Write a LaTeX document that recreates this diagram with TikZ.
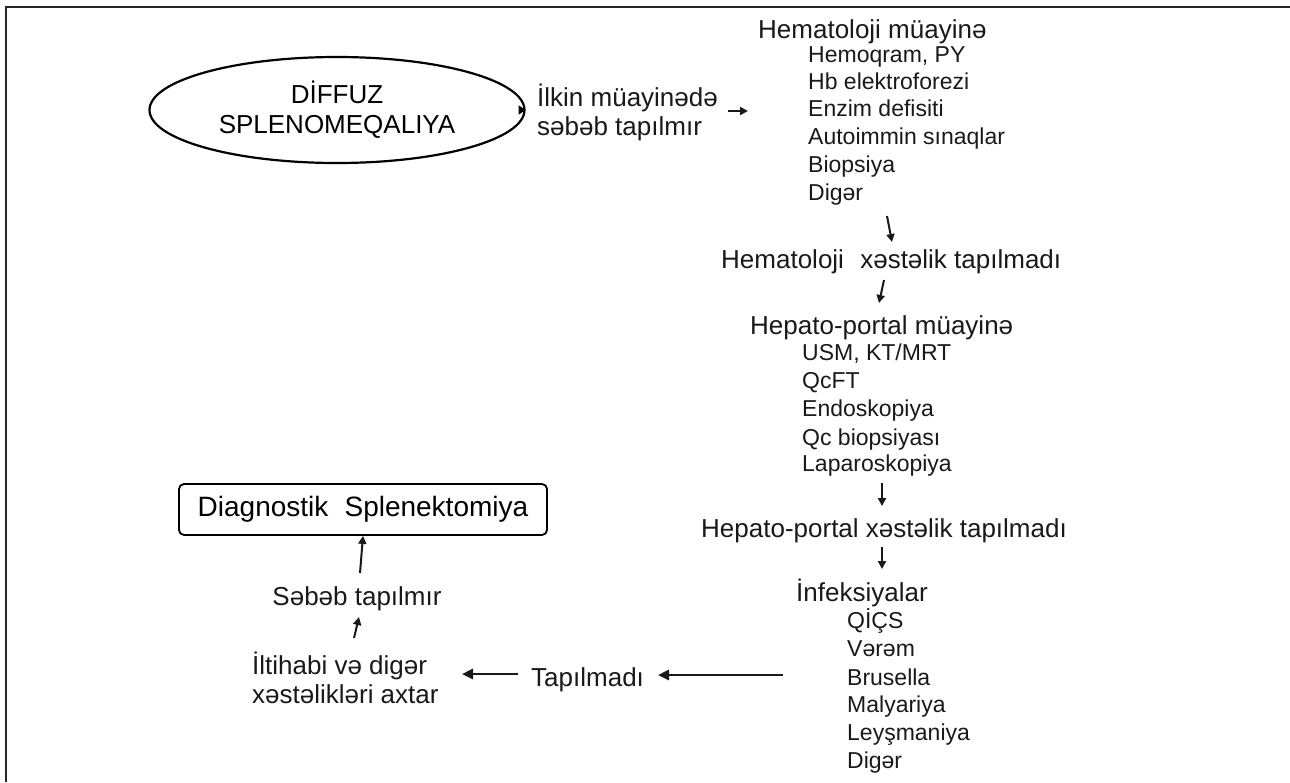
\documentclass[tikz,border=0pt]{standalone}
\usepackage{fontspec}
\setmainfont{Liberation Sans}
\usetikzlibrary{arrows.meta,shapes.geometric}
\tikzset{
  lbl/.style={inner sep=0pt, font=\fontsize{26}{29}\selectfont, text=black!90},
  itm/.style={inner sep=0pt, anchor=base west, font=\fontsize{23}{27}\selectfont, text=black!90},
  arr/.style={-{Triangle[length=8pt,width=8pt]}, line width=2pt, black!90},
  larr/.style={-{Triangle[length=11pt,width=10pt]}, line width=2.6pt, black!90},
  ellbox/.style={ellipse, draw, line width=2.2pt, minimum width=375pt, minimum height=106pt, inner sep=0pt, align=center, font=\fontsize{26}{30}\selectfont},
  dbox/.style={draw, rounded corners=5pt, line width=1.8pt, minimum width=368pt, minimum height=51pt, inner sep=0pt, font=\fontsize{28}{32}\selectfont}
}
\begin{document}
\begin{tikzpicture}[x=1pt,y=-1pt]
\useasboundingbox (0,0) rectangle (1290,782);
\draw[line width=1.6pt, black!85] (6,782) -- (6,7) -- (1290,7);

% ellipse and first step
\node[ellbox] (diff) at (337,110) {DİFFUZ\\SPLENOMEQALIYA};
\draw[-{Triangle[length=7pt,width=9pt]}, line width=1.5pt] ([xshift=-7pt]diff.east) -- (diff.east);
\node[lbl, align=left, anchor=west] (ilkin) at (537,112) {İlkin müayinədə\\səbəb tapılmır};
\coordinate (i1) at (728,111); \coordinate (i2) at (748,111);
\draw[arr] (i1) -- (i2);

% hematology
\node[lbl, anchor=base west] (hem) at (758,38) {Hematoloji müayinə};
\node[itm] (h1) at (808,62) {Hemoqram, PY};
\node[itm] (h2) at (808,89) {Hb elektroforezi};
\node[itm] (h3) at (808,116) {Enzim defisiti};
\node[itm] (h4) at (808,144) {Autoimmin sınaqlar};
\node[itm] (h5) at (808,172) {Biopsiya};
\node[itm] (h6) at (808,200) {Digər};
\coordinate (a1) at (887,216); \coordinate (a2) at (892,242);
\draw[arr] (a1) -- (a2);
\node[lbl, anchor=base west] (hx) at (721,268) {Hematoloji\hspace{0.35em} xəstəlik tapılmadı};
\coordinate (b1) at (884,280); \coordinate (b2) at (879,303);
\draw[arr] (b1) -- (b2);

% hepato-portal
\node[lbl, anchor=base west] (hep) at (750,334) {Hepato-portal müayinə};
\node[itm] (p1) at (802,360) {USM, KT/MRT};
\node[itm] (p2) at (802,388) {QcFT};
\node[itm] (p3) at (802,416) {Endoskopiya};
\node[itm] (p4) at (802,445) {Qc biopsiyası};
\node[itm] (p5) at (802,471) {Laparoskopiya};
\coordinate (c1) at (882,483); \coordinate (c2) at (882,506);
\draw[arr] (c1) -- (c2);
\node[lbl, anchor=base west] (px) at (701,537) {Hepato-portal xəstəlik tapılmadı};
\coordinate (d1) at (882,547); \coordinate (d2) at (882,569);
\draw[arr] (d1) -- (d2);

% infections
\node[lbl, anchor=base west] (inf) at (796,601) {İnfeksiyalar};
\node[itm] (f1) at (847,628) {QİÇS};
\node[itm] (f2) at (847,656) {Vərəm};
\node[itm] (f3) at (847,685) {Brusella};
\node[itm] (f4) at (847,712) {Malyariya};
\node[itm] (f5) at (847,740) {Leyşmaniya};
\node[itm] (f6) at (847,768) {Digər};

% bottom-left path
\node[lbl, anchor=base west] (tap) at (531,686) {Tapılmadı};
\coordinate (e1) at (783,675); \coordinate (e2) at (658,675);
\draw[larr] (e1) -- (e2);
\node[lbl, align=left, anchor=west] (ilt) at (252,678) {İltihabi və digər\\xəstəlikləri axtar};
\coordinate (g1) at (518,674); \coordinate (g2) at (462,674);
\draw[larr] (g1) -- (g2);
\coordinate (k1) at (354,638); \coordinate (k2) at (359,617);
\draw[arr] (k1) -- (k2);
\node[lbl, anchor=base] (seb) at (357,605) {Səbəb tapılmır};
\node[dbox] (diag) at (363,509.5) {Diagnostik\hspace{0.3em} Splenektomiya};
\coordinate (m1) at (360,573);
\draw[arr] (m1) -- (diag.south);
\end{tikzpicture}
\end{document}
